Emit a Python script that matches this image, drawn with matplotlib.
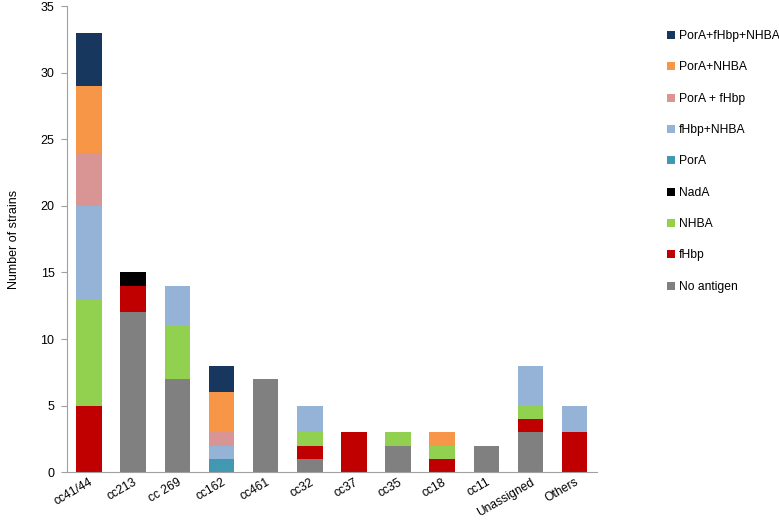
import matplotlib
matplotlib.use("Agg")
import matplotlib.pyplot as plt
import numpy as np

plt.rcParams['font.family'] = ['Liberation Sans', 'DejaVu Sans']

categories = ["cc41/44", "cc213", "cc 269", "cc162", "cc461", "cc32", "cc37",
              "cc35", "cc18", "cc11", "Unassigned", "Others"]
no_antigen    = [0, 12, 7, 0, 7, 1, 0, 2, 0, 2, 3, 0]
fhbp          = [5, 2, 0, 0, 0, 1, 3, 0, 1, 0, 1, 3]
nhba          = [8, 0, 4, 0, 0, 1, 0, 1, 1, 0, 1, 0]
nada          = [0, 1, 0, 0, 0, 0, 0, 0, 0, 0, 0, 0]
pora          = [0, 0, 0, 1, 0, 0, 0, 0, 0, 0, 0, 0]
fhbp_nhba     = [7, 0, 3, 1, 0, 2, 0, 0, 0, 0, 3, 2]
pora_fhbp     = [4, 0, 0, 1, 0, 0, 0, 0, 0, 0, 0, 0]
pora_nhba     = [5, 0, 0, 3, 0, 0, 0, 0, 1, 0, 0, 0]
pora_fhbp_nhba = [4, 0, 0, 2, 0, 0, 0, 0, 0, 0, 0, 0]

series = [
    ("No antigen", no_antigen, "#808080"),
    ("fHbp", fhbp, "#C00000"),
    ("NHBA", nhba, "#92D050"),
    ("NadA", nada, "#000000"),
    ("PorA", pora, "#4298B0"),
    ("fHbp+NHBA", fhbp_nhba, "#95B3D7"),
    ("PorA + fHbp", pora_fhbp, "#D99594"),
    ("PorA+NHBA", pora_nhba, "#F79646"),
    ("PorA+fHbp+NHBA", pora_fhbp_nhba, "#17375E"),
]

fig = plt.figure(figsize=(7.79, 5.2), dpi=100)
ax = fig.add_axes([0.086, 0.092, 0.680, 0.896])

x = np.arange(len(categories))
bottom = np.zeros(len(categories))
handles = []
for name, vals, color in series:
    vals = np.array(vals, dtype=float)
    h = ax.bar(x, vals, 0.58, bottom=bottom, color=color, label=name, linewidth=0)
    handles.append(h)
    bottom += vals

ax.set_xlim(-0.5, len(categories) - 0.5)
ax.set_ylim(0, 35)
ax.set_yticks(np.arange(0, 36, 5))
ax.set_xticks(x)
ax.set_xticklabels(categories, rotation=30, ha='right', va='top',
                   rotation_mode='anchor', fontsize=8.7)
ax.tick_params(axis='y', labelsize=9, length=4, pad=5, color='#A0A0A0')
ax.tick_params(axis='x', length=0, pad=3)
for s in ['top', 'right']:
    ax.spines[s].set_visible(False)
for s in ['left', 'bottom']:
    ax.spines[s].set_color('#A0A0A0')
ax.set_ylabel("Number of strains", fontsize=9, labelpad=0)
ax.yaxis.set_label_coords(-0.088, 0.5)

leg = fig.legend(handles[::-1], [s[0] for s in series][::-1], loc='upper left',
                 bbox_to_anchor=(0.856, 0.942), frameon=False, fontsize=8.7,
                 handlelength=0.65, handleheight=0.65, handletextpad=0.35,
                 labelspacing=1.6, borderaxespad=0, borderpad=0)

fig.savefig("out.png", dpi=100)
